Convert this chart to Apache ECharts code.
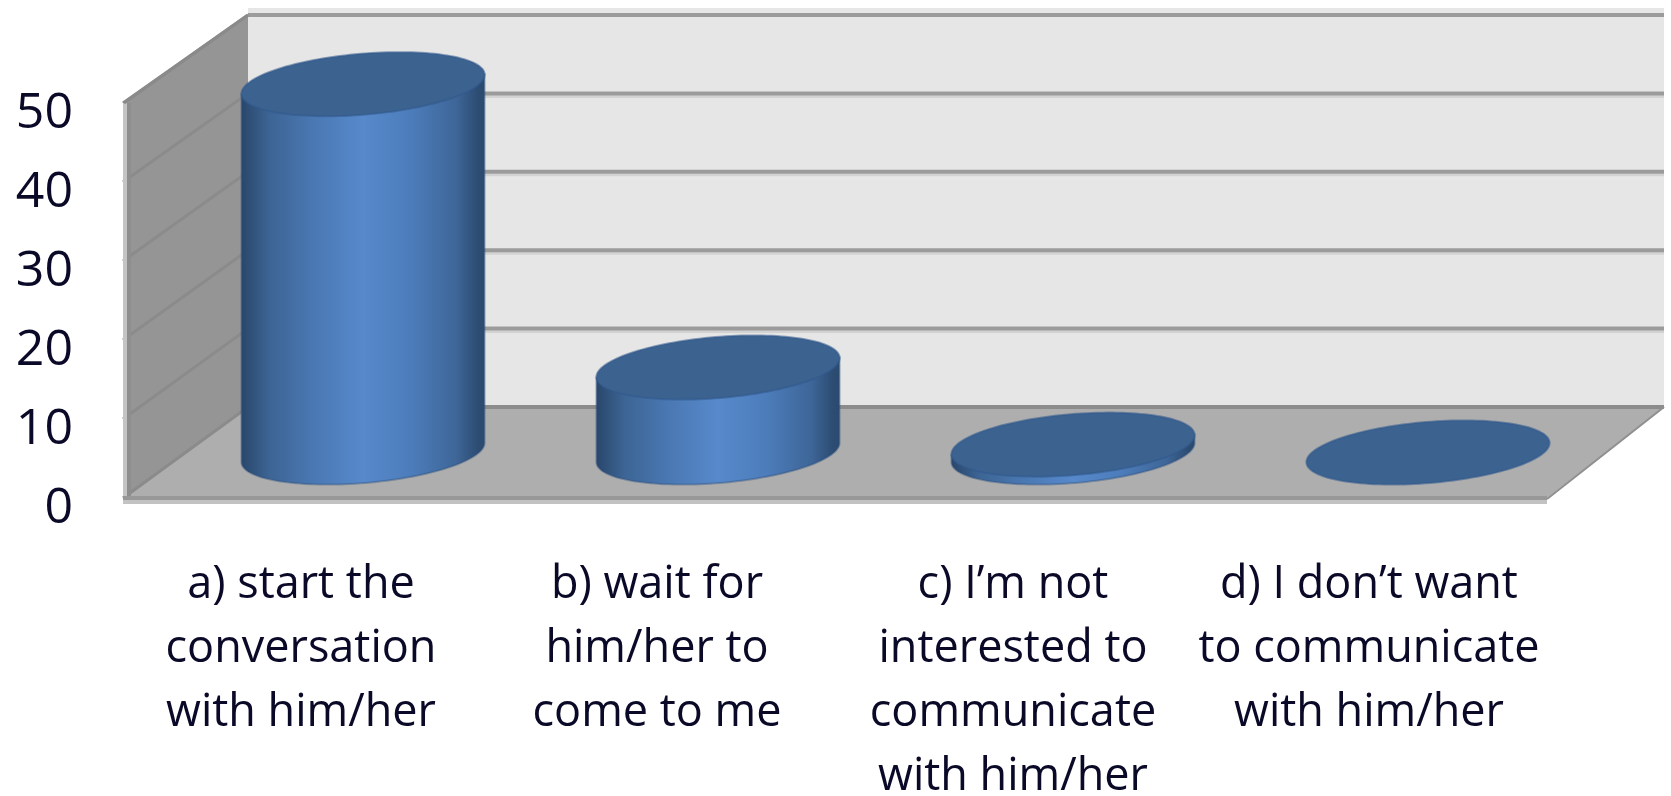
<!DOCTYPE html>
<html>
<head>
<meta charset="utf-8">
<style>html,body{margin:0;padding:0;background:#fff}#c{width:1671px;height:796px}</style>
<script src="https://cdn.jsdelivr.net/npm/echarts@6/dist/echarts.min.js"></script>
</head>
<body>
<div id="c"></div>
<script>
const categories = [
  "a) start the\nconversation\nwith him/her",
  "b) wait for\nhim/her to\ncome to me",
  "c) I’m not\ninterested to\ncommunicate\nwith him/her",
  "d) I don’t want\nto communicate\nwith him/her"
];
const values = [46.8, 10.8, 1, 0];
const yTicks = [0, 10, 20, 30, 40, 50];

const G = {left: 123, top: 103, width: 1424, height: 395};
const D = {dxL: 125, dxR: 117, dyB: 91, dyT: 88};
const bottomY = G.top + G.height;
function proj(x, y, t) {
  const f = (x - G.left) / G.width;
  const g = (bottomY - y) / G.height;
  return [x + t * (D.dxL + (D.dxR - D.dxL) * f), y - t * (D.dyB + (D.dyT - D.dyB) * g)];
}
function poly(points, fill, z) {
  return {type: 'polygon', z2: z || 0, shape: {points}, style: {fill}};
}
function seg(a, b, stroke, w, z) {
  return {type: 'line', z2: z || 0, shape: {x1: a[0], y1: a[1], x2: b[0], y2: b[1]}, style: {stroke, lineWidth: w}};
}
function renderWalls(params, api) {
  if (params.dataIndex !== 0) return {type: 'group', children: []};
  const y0 = api.coord([0, 0])[1];
  const yMax = api.coord([0, yTicks[yTicks.length - 1]])[1];
  const L = G.left, R = G.left + G.width;
  const c = [];
  c.push(poly([proj(L, y0, 1), proj(R, y0, 1), proj(R, yMax, 1), proj(L, yMax, 1)], '#e6e6e6'));
  c.push(poly([[L, y0], [R, y0], proj(R, y0, 1), proj(L, y0, 1)], '#aeaeae', 1));
  c.push(poly([[L, y0 + 2], [L, yMax], proj(L, yMax, 1), proj(L, y0, 1)], '#959595', 2));
  const tl = proj(L, yMax, 1), tr = proj(R, yMax, 1);
  c.push(poly([[tl[0], tl[1] - 7], [tr[0], tr[1] - 7], tr, tl], '#e6e6e6', 0));
  yTicks.forEach(function (v) {
    const y = api.coord([0, v])[1];
    const a = proj(L, y, 1), b = proj(R, y, 1);
    if (v !== 0 && v !== 50) c.push(seg([a[0], a[1] + 3], [b[0], b[1] + 3], '#d2d2d2', 3, 0));
    c.push(seg(a, b, v === 0 ? '#8c8c8c' : '#9b9b9b', 4, 3));
    c.push(seg([L, y], a, '#8b8b8b', 3, 3));
  });
  c.push(seg([L, y0 + 4], [R, y0 + 4], '#c2c2c2', 4, 4));
  c.push(seg([L, y0], [R, y0], '#989898', 4, 5));
  c.push(seg([R, y0 + 1], proj(R, y0, 1), '#8f8f8f', 2, 5));
  c.push(seg([L + 2, yMax], [L + 2, y0 + 5], '#c4c4c4', 4, 4));
  c.push(seg([L + 6, yMax], [L + 6, y0], '#8e8e8e', 4, 4));
  c.push(seg([L + 1, yMax], proj(L, yMax, 1), '#8a8a8a', 3, 4));
  return {type: 'group', children: c};
}
const RX = 122, RY = 30.5, TILT = -4.8 * Math.PI / 180;
function ell(cx, cy, th) {
  const a = RX * Math.cos(th), b = RY * Math.sin(th);
  return [cx + a * Math.cos(TILT) - b * Math.sin(TILT), cy + a * Math.sin(TILT) + b * Math.cos(TILT)];
}
function renderCyl(params, api) {
  const i = api.value(0), v = api.value(1);
  const base = proj(api.coord([i, 0])[0], api.coord([i, 0])[1], 0.5);
  const top = proj(api.coord([i, v])[0], api.coord([i, v])[1], 0.5);
  const N = 72, ringB = [], ring = [];
  for (let k = 0; k <= N; k++) ringB.push(ell(base[0], base[1], Math.PI * k / N));
  for (let k = 0; k < N * 2; k++) ring.push(ell(top[0], top[1], Math.PI * k / N));
  const grad = {type: 'linear', x: 0, y: 0, x2: 1, y2: 0, colorStops: [
    {offset: 0, color: '#294669'}, {offset: 0.04, color: '#2f5078'},
    {offset: 0.12, color: '#3d6595'}, {offset: 0.3, color: '#4a78b3'},
    {offset: 0.5, color: '#5789cb'}, {offset: 0.7, color: '#4c7cba'},
    {offset: 0.88, color: '#3e6698'}, {offset: 0.97, color: '#2c4c72'}, {offset: 1, color: '#2b4a6f'}
  ]};
  const pts = ringB.concat([ell(top[0], top[1], Math.PI), ell(top[0], top[1], 0)]);
  const c = [];
  if (v > 0) c.push({type: 'polygon', shape: {points: pts}, style: {fill: grad, stroke: 'rgba(44,80,125,0.4)', lineWidth: 2}});
  c.push({type: 'polygon', z2: 2, shape: {points: ring}, style: {fill: '#3c6290', stroke: 'rgba(50,89,140,0.55)', lineWidth: 2}});
  return {type: 'group', children: c};
}
const chart = echarts.init(document.getElementById('c'), null, {renderer: 'canvas', width: 1671, height: 796});
chart.setOption({
  animation: false,
  backgroundColor: '#ffffff',
  grid: {left: G.left, top: G.top, width: G.width, height: G.height, containLabel: false, outerBoundsMode: 'none'},
  xAxis: {
    type: 'category', data: categories,
    axisLine: {show: false}, axisTick: {show: false}, splitLine: {show: false},
    axisLabel: {interval: 0, margin: 55, fontFamily: 'Open Sans', fontSize: 45, lineHeight: 64, color: '#0a0a28', align: 'center', verticalAlign: 'top'}
  },
  yAxis: {
    type: 'value', min: 0, max: 50, interval: 10,
    axisLine: {show: false}, axisTick: {show: false}, splitLine: {show: false},
    axisLabel: {margin: 50, fontFamily: 'Open Sans', fontSize: 50, lineHeight: 22, color: '#0a0a28', align: 'right', verticalAlign: 'top'}
  },
  series: [
    {type: 'custom', coordinateSystem: 'cartesian2d', clip: false, z: 1, silent: true,
     data: yTicks.map(function (t) { return [0, t]; }), renderItem: renderWalls, encode: {x: 0, y: 1}},
    {type: 'custom', coordinateSystem: 'cartesian2d', clip: false, z: 2, silent: true,
     data: values.map(function (v, i) { return [i, v]; }), renderItem: renderCyl, encode: {x: 0, y: 1}}
  ]
});
</script>
</body>
</html>
